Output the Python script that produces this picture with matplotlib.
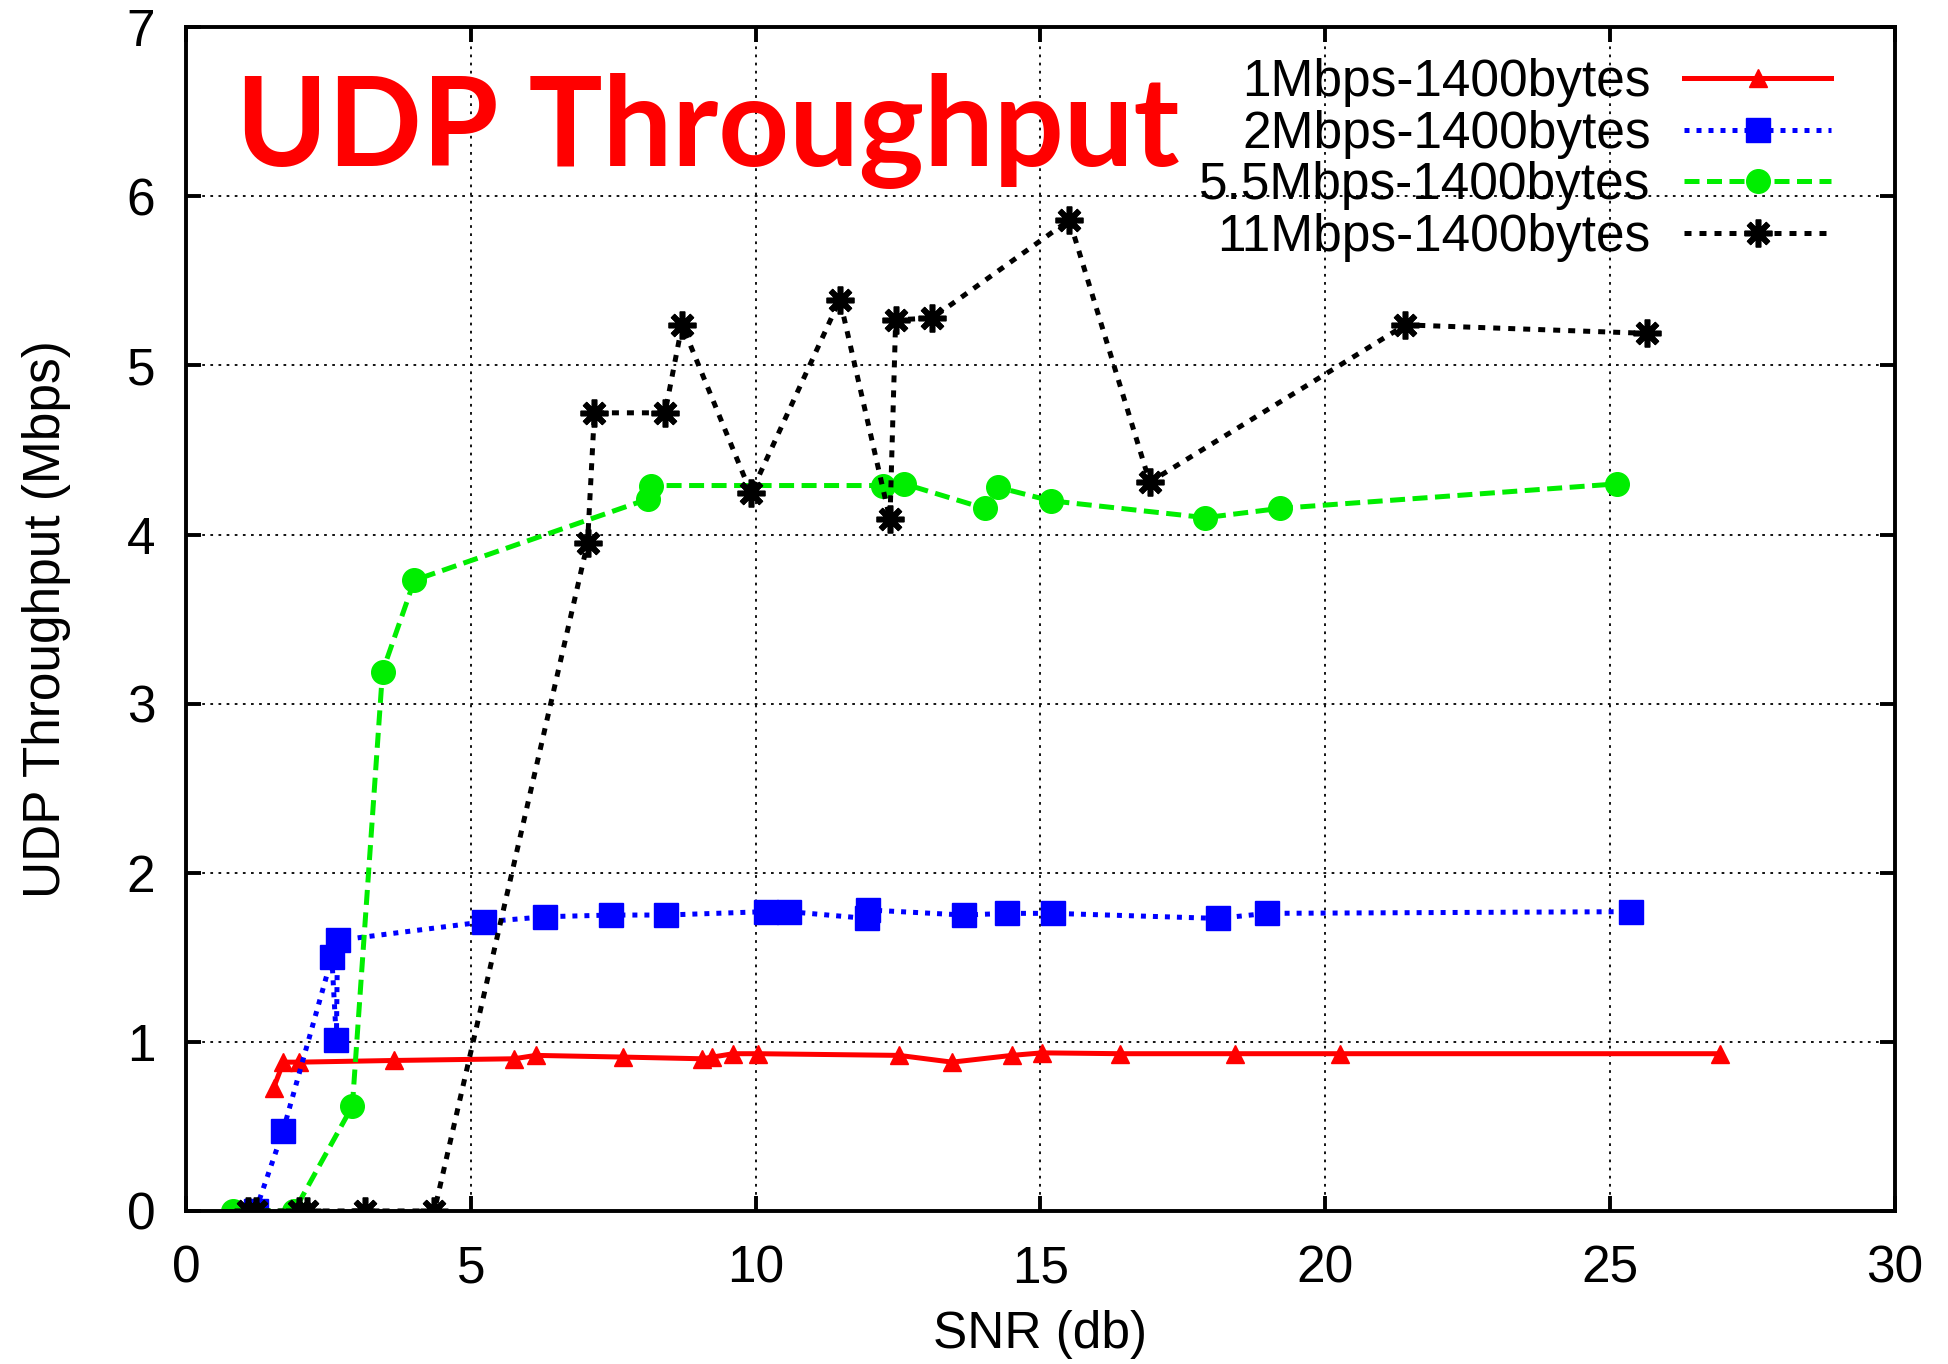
import matplotlib
matplotlib.use("Agg")
import matplotlib.pyplot as plt

# SNR (db) / throughput (Mbps)
snr_1m = [1.54, 1.71, 1.99, 3.66, 5.76, 6.14, 7.68, 9.06, 9.24, 9.61, 10.04,
          12.52, 13.45, 14.5, 15.03, 16.4, 18.42, 20.27, 26.93]
thr_1m = [0.73, 0.88, 0.88, 0.89, 0.90, 0.92, 0.91, 0.90, 0.91, 0.93, 0.93,
          0.92, 0.88, 0.92, 0.935, 0.93, 0.93, 0.93, 0.93]

snr_2m = [1.22, 1.70, 2.56, 2.64, 2.66, 5.23, 6.31, 7.47, 8.42, 10.18, 10.59,
          11.95, 11.98, 13.66, 14.42, 15.22, 18.12, 18.98, 25.37]
thr_2m = [0.0, 0.47, 1.50, 1.01, 1.60, 1.71, 1.74, 1.75, 1.75, 1.77, 1.77,
          1.73, 1.78, 1.75, 1.76, 1.76, 1.73, 1.76, 1.77]

snr_55m = [0.83, 1.90, 2.92, 3.45, 4.01, 8.11, 8.16, 12.23, 12.61, 14.02,
           14.25, 15.18, 17.9, 19.21, 25.13]
thr_55m = [0.0, 0.0, 0.62, 3.19, 3.73, 4.21, 4.29, 4.29, 4.30, 4.155,
           4.28, 4.20, 4.10, 4.155, 4.30]

snr_11m = [1.08, 1.22, 1.98, 2.12, 3.15, 4.36, 7.05, 7.17, 8.41, 8.71, 9.92,
           11.48, 12.36, 12.46, 13.1, 15.51, 16.92, 21.41, 25.65]
thr_11m = [0.0, 0.0, 0.0, 0.0, 0.0, 0.0, 3.95, 4.72, 4.72, 5.24, 4.245,
           5.39, 4.09, 5.27, 5.28, 5.86, 4.31, 5.24, 5.19]

labels = ["1Mbps-1400bytes", "2Mbps-1400bytes",
          "5.5Mbps-1400bytes", "11Mbps-1400bytes"]

plt.rcParams["font.family"] = ["Liberation Sans", "DejaVu Sans"]
FS = 37

fig = plt.figure(figsize=(19.48, 13.64), dpi=100)
ax = fig.add_axes([0.0955, 0.1122, 0.8771, 0.8678])

ax.plot(snr_1m, thr_1m, color="#ff0000", lw=3.6, ls="-",
        marker="^", ms=13, mec="#ff0000", label=labels[0])
ax.plot(snr_2m, thr_2m, color="#0000ff", lw=3.6, ls=(0, (1.0, 1.4)),
        marker="s", ms=17, mec="#0000ff", label=labels[1])
ax.plot(snr_55m, thr_55m, color="#00ee00", lw=3.6, ls=(0, (3.0, 1.5)),
        marker="o", ms=17, mec="#00ee00", label=labels[2])
ax.plot(snr_11m, thr_11m, color="black", lw=3.6, ls=(0, (1.4, 1.6)),
        marker=(8, 2, 0), ms=20, mew=4, label=labels[3])

ax.set_xlim(0, 30)
ax.set_ylim(0, 7)
ax.set_xticks(range(0, 31, 5))
ax.set_yticks(range(0, 8))
ax.grid(True, color="black", ls=(0, (1.5, 3)), lw=1.3)
for s in ax.spines.values():
    s.set_linewidth(2.8)
ax.tick_params(direction="in", length=11, width=2.8, top=True, right=True,
               labelsize=FS)
ax.tick_params(axis="x", pad=24)
ax.tick_params(axis="y", pad=22)

ax.set_xlabel("SNR (db)", fontsize=FS, labelpad=12)
ax.set_ylabel("UDP Throughput (Mbps)", fontsize=FS, labelpad=40)

leg = ax.legend(loc="upper right", bbox_to_anchor=(0.963, 0.974),
                frameon=False, markerfirst=False, fontsize=FS,
                handlelength=2.87, handletextpad=0.65, labelspacing=0.05,
                borderpad=0, borderaxespad=0, numpoints=1)

ax.text(0.029, 0.883, "UDP Throughput", transform=ax.transAxes,
        color="#ff0000", fontsize=89, fontweight="bold",
        family=["Lato", "DejaVu Sans"], va="baseline", ha="left")

fig.savefig("out.png", dpi=100)
